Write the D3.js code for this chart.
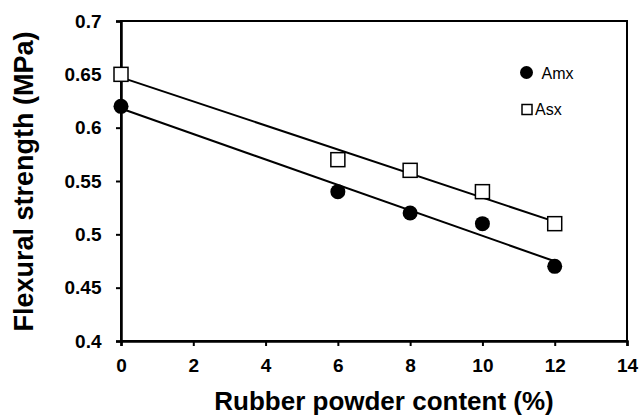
<!DOCTYPE html>
<html>
<head>
<meta charset="utf-8">
<script src="https://cdn.jsdelivr.net/npm/d3@7"></script>
<style>
  body { margin: 0; background: #fff; }
  text { font-family: "Liberation Sans", Arial, sans-serif; }
</style>
</head>
<body>
<div class="chart"></div>
<script>
// rubber powder content (%)
let content = [0, 6, 8, 10, 12];
// flexural strength (MPa)
let amx = [0.62, 0.54, 0.52, 0.51, 0.47];
let asx = [0.65, 0.57, 0.56, 0.54, 0.51];
let xTicks = [0, 2, 4, 6, 8, 10, 12, 14];
let yTicks = [0.4, 0.45, 0.5, 0.55, 0.6, 0.65, 0.7];

let margin = { top: 21, right: 14, bottom: 74, left: 121 },
    width = 641 - margin.left - margin.right,
    height = 415 - margin.top - margin.bottom;

let svg = d3.select('.chart')
    .append('svg')
    .attr('width', 641)
    .attr('height', 415)
    .append('g')
    .attr('transform', 'translate(' + margin.left + ',' + margin.top + ')');

let x = d3.scaleLinear().domain([0, 14]).range([0, width]);
let y = d3.scaleLinear().domain([0.4, 0.7]).range([height, 0]);

// least squares fit for the trend lines
function fit(xs, ys) {
    let mx = d3.mean(xs), my = d3.mean(ys);
    let sxy = d3.sum(xs, (v, i) => (v - mx) * (ys[i] - my));
    let sxx = d3.sum(xs, v => (v - mx) * (v - mx));
    let b = sxy / sxx;
    return { a: my - b * mx, b: b };
}

// frame
svg.append('rect')
    .attr('width', width)
    .attr('height', height)
    .style('fill', 'none')
    .style('stroke', '#000')
    .style('stroke-width', 2);

let xAxis = d3.axisBottom(x).tickValues(xTicks).tickSize(5).tickPadding(12.5).tickFormat(d3.format('d'));
let yAxis = d3.axisLeft(y).tickValues(yTicks).tickSize(5).tickPadding(14.5).tickFormat(d => +d.toFixed(2));

let gx = svg.append('g')
    .attr('transform', 'translate(0,' + height + ')')
    .call(xAxis);
let gy = svg.append('g').call(yAxis);

[gx, gy].forEach(g => {
    g.select('.domain').style('stroke-width', 2.5);
    g.selectAll('.tick line').style('stroke-width', 2);
    g.selectAll('.tick text')
        .style('font-size', '19px')
        .style('font-weight', 'bold')
        .style('fill', '#000');
});

// trend lines
[amx, asx].forEach(series => {
    let f = fit(content, series);
    svg.append('line')
        .attr('x1', x(0))
        .attr('y1', y(f.a))
        .attr('x2', x(12))
        .attr('y2', y(f.a + f.b * 12))
        .style('stroke', '#000')
        .style('stroke-width', 2);
});

// Amx points
svg.selectAll('.amx')
    .data(content)
    .enter().append('circle')
    .attr('cx', d => x(d))
    .attr('cy', (d, i) => y(amx[i]))
    .attr('r', 7.5)
    .style('fill', '#000');

// Asx points
svg.selectAll('.asx')
    .data(content)
    .enter().append('rect')
    .attr('x', d => x(d) - 7)
    .attr('y', (d, i) => y(asx[i]) - 7)
    .attr('width', 14)
    .attr('height', 14)
    .style('fill', '#fff')
    .style('stroke', '#000')
    .style('stroke-width', 1.5);

// legend
let legend = svg.append('g').attr('transform', 'translate(' + (526.5 - margin.left) + ',' + (72.5 - margin.top) + ')');
legend.append('circle').attr('cx', 0).attr('cy', 0).attr('r', 6.5).style('fill', '#000');
legend.append('text').attr('x', 15).attr('y', 6).style('font-size', '16px').text('Amx');
legend.append('rect').attr('x', -4.5).attr('y', 37 - 5).attr('width', 10).attr('height', 10)
    .style('fill', '#fff').style('stroke', '#000').style('stroke-width', 1.5);
legend.append('text').attr('x', 8.5).attr('y', 42.5).style('font-size', '16px').text('Asx');

// axis titles
svg.append('text')
    .attr('text-anchor', 'middle')
    .attr('x', 384 - margin.left)
    .attr('y', 410 - margin.top)
    .style('font-size', '26px')
    .style('font-weight', 'bold')
    .text('Rubber powder content (%)');

svg.append('text')
    .attr('text-anchor', 'middle')
    .attr('transform', 'translate(' + (33 - margin.left) + ',' + (181.5 - margin.top) + ')rotate(-90)')
    .style('font-size', '27px')
    .style('font-weight', 'bold')
    .text('Flexural strength (MPa)');
</script>
</body>
</html>
